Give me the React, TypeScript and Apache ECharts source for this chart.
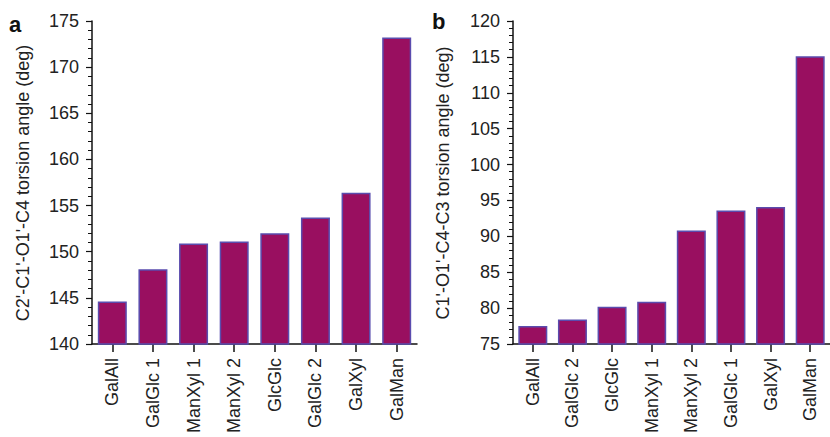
import React, { useEffect, useRef } from "react";
import * as echarts from "echarts";

const categoriesA = ["GalAll", "GalGlc 1", "ManXyl 1", "ManXyl 2", "GlcGlc", "GalGlc 2", "GalXyl", "GalMan"];
const valuesA = [144.6, 148.1, 150.9, 151.1, 152.0, 153.7, 156.4, 173.2];
const categoriesB = ["GalAll", "GalGlc 2", "GlcGlc", "ManXyl 1", "ManXyl 2", "GalGlc 1", "GalXyl", "GalMan"];
const valuesB = [77.5, 78.4, 80.2, 80.9, 90.8, 93.6, 94.1, 115.1];
const yRangeA = [140, 175];
const yRangeB = [75, 120];
const titleA = "C2'-C1'-O1'-C4 torsion angle (deg)";
const titleB = "C1'-O1'-C4-C3 torsion angle (deg)";

const FONT = "'Liberation Sans', Arial, Helvetica, sans-serif";
const BAR_FILL = "#990f60";
const BAR_EDGE = "#5a4cae";

export default function App() {
  const ref = useRef<HTMLDivElement>(null);
  useEffect(() => {
    if (!ref.current) return;
    const chart = echarts.init(ref.current, null, { renderer: "svg" });
    const xAxisCommon = (cats: string[], gi: number) => ({
      type: "category",
      gridIndex: gi,
      data: cats,
      axisLine: { show: true, lineStyle: { color: "#111", width: 1.5 } },
      axisTick: { show: true, alignWithLabel: true, length: 8, lineStyle: { color: "#111", width: 1.5 } },
      axisLabel: { rotate: 90, margin: 14, fontSize: 18, color: "#222", fontFamily: FONT },
      splitLine: { show: false },
    });
    const yAxisCommon = (range: number[], gi: number) => ({
      type: "value",
      gridIndex: gi,
      min: range[0],
      max: range[1],
      interval: 5,
      axisLine: { show: true, lineStyle: { color: "#111", width: 1.5 } },
      axisTick: { show: true, length: 6, lineStyle: { color: "#111", width: 1.2 } },
      minorTick: { show: true, splitNumber: 5, length: 4, lineStyle: { color: "#111", width: 1 } },
      axisLabel: { margin: 13, fontSize: 18, color: "#222", fontFamily: FONT },
      splitLine: { show: false },
    });
    const barCommon = {
      type: "bar",
      barWidth: 29,
      itemStyle: { color: BAR_FILL, borderColor: BAR_EDGE, borderWidth: 1.5 },
    };
    chart.setOption({
      animation: false,
      backgroundColor: "#ffffff",
      grid: [
        { left: 92, top: 21, width: 325, height: 323 },
        { left: 513, top: 21, width: 321, height: 323 },
      ],
      xAxis: [xAxisCommon(categoriesA, 0), xAxisCommon(categoriesB, 1)],
      yAxis: [yAxisCommon(yRangeA, 0), yAxisCommon(yRangeB, 1)],
      series: [
        { ...barCommon, xAxisIndex: 0, yAxisIndex: 0, data: valuesA },
        { ...barCommon, xAxisIndex: 1, yAxisIndex: 1, data: valuesB },
      ],
      graphic: [
        {
          type: "text",
          x: 23,
          y: 183,
          rotation: Math.PI / 2,
          style: { text: titleA, fontSize: 18, fill: "#222", fontFamily: FONT, align: "center", verticalAlign: "middle" },
        },
        {
          type: "text",
          x: 443,
          y: 183,
          rotation: Math.PI / 2,
          style: { text: titleB, fontSize: 18, fill: "#222", fontFamily: FONT, align: "center", verticalAlign: "middle" },
        },
        {
          type: "text",
          x: 9,
          y: 13,
          style: { text: "a", fontSize: 22, fontWeight: "bold", fill: "#111", fontFamily: FONT },
        },
        {
          type: "text",
          x: 432,
          y: 10,
          style: { text: "b", fontSize: 22, fontWeight: "bold", fill: "#111", fontFamily: FONT },
        },
      ],
    });
    return () => chart.dispose();
  }, []);
  return <div ref={ref} style={{ position: "fixed", left: 0, top: 0, width: 830, height: 437 }} />;
}
